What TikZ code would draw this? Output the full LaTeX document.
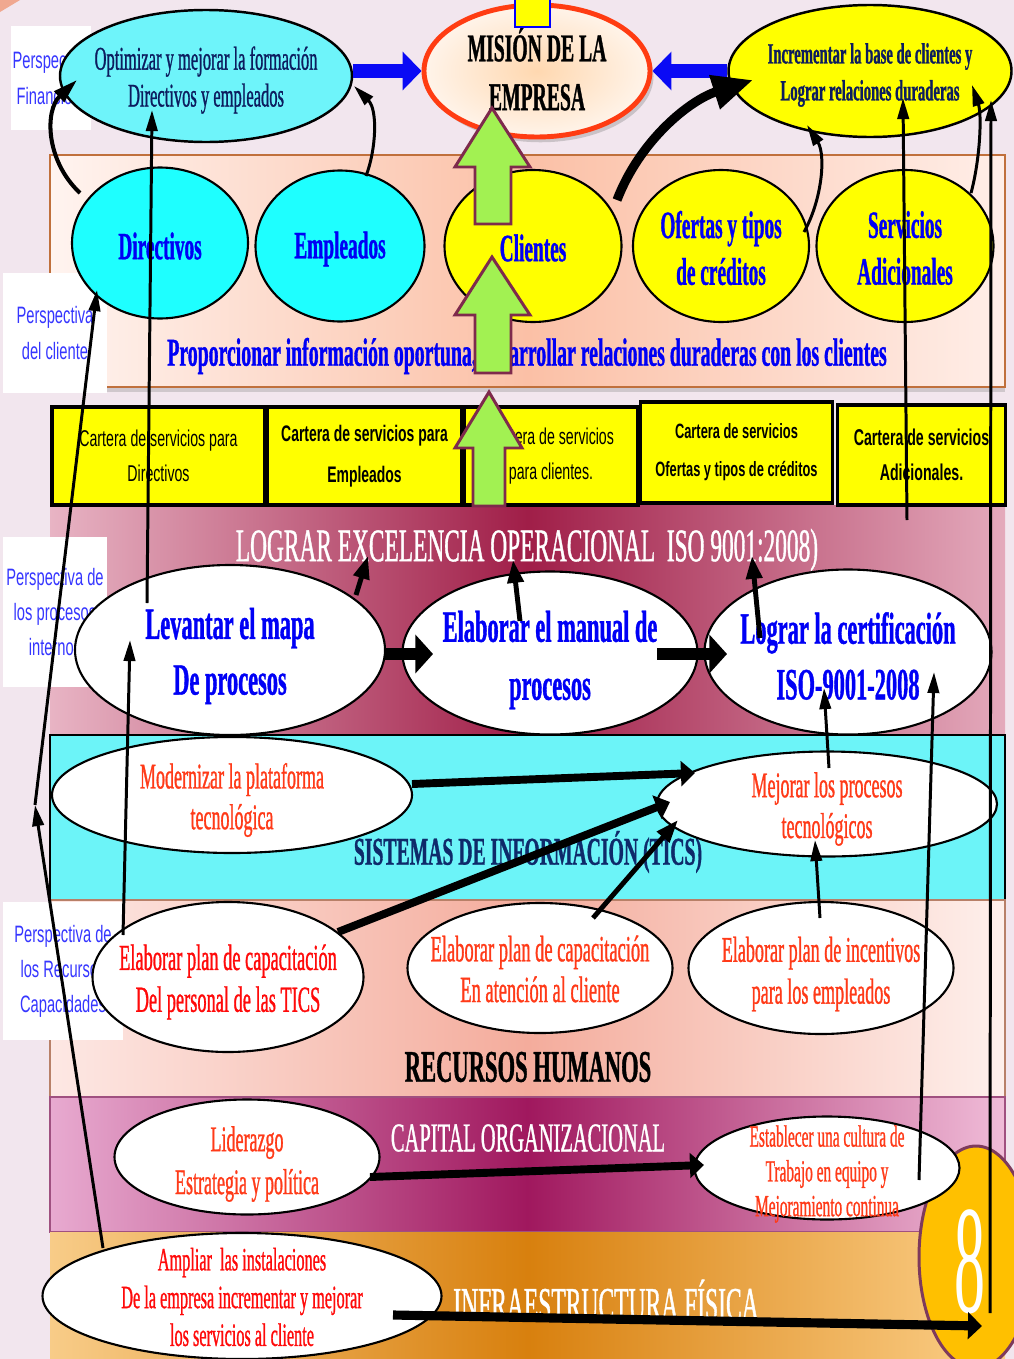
\documentclass[tikz,border=0pt]{standalone}
\usepackage{fontspec}
\usetikzlibrary{shapes.geometric,arrows.meta,calc,shadows}
\newfontfamily\cser[FakeStretch=0.5,FakeBold=0.8]{Liberation Serif}
\newfontfamily\csan[FakeStretch=0.62]{Liberation Sans}
\newfontfamily\ceight[FakeStretch=0.4]{Liberation Serif}

\definecolor{bgc}{HTML}{F2E6EE}
\definecolor{cornerc}{HTML}{F0A890}
\definecolor{cyanL}{HTML}{6EF4FA}
\definecolor{cyanD}{HTML}{1EFFFF}
\definecolor{ylw}{HTML}{FFFF00}
\definecolor{pblue}{HTML}{0000F5}
\definecolor{navy}{HTML}{0C1C5E}
\definecolor{ticsnavy}{HTML}{0E2A6A}
\definecolor{persp}{HTML}{3636FF}
\definecolor{ored}{HTML}{FF3A18}
\definecolor{pred}{HTML}{FF0A0A}
\definecolor{garr}{HTML}{A2F152}
\definecolor{gline}{HTML}{7E2A4C}
\definecolor{misred}{HTML}{FF3C12}
\definecolor{misin}{HTML}{FFD8B0}
\definecolor{misout}{HTML}{FFF4EA}
\definecolor{gold}{HTML}{FFC000}
\definecolor{goldline}{HTML}{7E3A5C}
\definecolor{bblue}{HTML}{0A0AF5}
\definecolor{bandline}{HTML}{C0703C}
\definecolor{cliL}{HTML}{FFF4F0}
\definecolor{cliM}{HTML}{FBC0A6}
\definecolor{cliR}{HTML}{FFEEE8}
\definecolor{proL}{HTML}{E8B4C4}
\definecolor{proM}{HTML}{A01E48}
\definecolor{proR}{HTML}{E4AABC}
\definecolor{ticsc}{HTML}{6CF4F8}
\definecolor{rhL}{HTML}{FDE8E4}
\definecolor{rhM}{HTML}{F4AC9C}
\definecolor{rhR}{HTML}{FEF0EC}
\definecolor{rhline}{HTML}{B88068}
\definecolor{coL}{HTML}{E8AAD0}
\definecolor{coM}{HTML}{A0185E}
\definecolor{coR}{HTML}{F0BCD8}
\definecolor{coline}{HTML}{A05080}
\definecolor{inL}{HTML}{F8CC88}
\definecolor{inM}{HTML}{D8800E}
\definecolor{inR}{HTML}{FCD08A}

\tikzset{
  ov/.style 2 args={shape=ellipse, inner sep=0pt, minimum width=#1*0.02cm, minimum height=#2*0.02cm},
  fr/.style 2 args={font=\cser\fontsize{#1}{#2}\selectfont, align=center, inner sep=0pt},
  fb/.style 2 args={font=\cser\bfseries\fontsize{#1}{#2}\selectfont, align=center, inner sep=0pt},
  fs/.style 2 args={font=\csan\fontsize{#1}{#2}\selectfont, align=center},
  fsb/.style 2 args={font=\csan\bfseries\fontsize{#1}{#2}\selectfont, align=center},
  plab/.style 2 args={fill=white, inner sep=0pt, minimum width=#1*0.02cm, minimum height=#2*0.02cm,
    font=\csan\fontsize{13.5}{20}\selectfont, align=center, text=persp},
  cell/.style 2 args={draw=black, line width=2pt, fill=ylw, inner sep=0pt,
    minimum width=#1*0.02cm, minimum height=#2*0.02cm},
  wov/.style={fill=white, draw=black, line width=1.2pt},
  yov/.style={fill=ylw, draw=black, line width=1.2pt},
  ar1/.style={line width=1.7pt, -{Triangle[width=6.5pt,length=12pt]}},
  ar2/.style={line width=2.8pt, -{Triangle[width=9pt,length=13pt]}},
  ar3/.style={line width=4.5pt, -{Triangle[width=14pt,length=8pt]}},
  ar4/.style={line width=6.8pt, -{Triangle[width=21.5pt,length=10pt]}},
  ar5/.style={line width=5.2pt, -{Triangle[width=15pt,length=8pt]}},
  arc1/.style={line width=2.3pt, -{Triangle[width=8pt,length=14pt]}},
  arcb/.style={line width=5.2pt, -{Triangle[width=19pt,length=23pt]}},
  blu/.style={draw=bblue, line width=8.5pt, -{Triangle[width=21.5pt,length=10.8pt]}},
  garrow/.style={fill=garr, draw=gline, line width=1.7pt, line join=miter},
}

\begin{document}
\begin{tikzpicture}[x=0.02cm,y=-0.02cm]
\useasboundingbox (0,0) rectangle (1014,1359);
\clip (0,0) rectangle (1014,1359);
\fill[bgc] (0,0) rectangle (1014,1359);
\fill[cornerc] (0,0) -- (20,0) -- (0,12) -- cycle;

% ---- perspective bands ----
\draw[draw=bandline, line width=1.2pt, left color=cliL, right color=cliR, middle color=cliM,
  drop shadow={opacity=0.3, shadow xshift=0pt, shadow yshift=-3pt}] (50,155) rectangle (1005,387);
\shade[left color=proL, right color=proR, middle color=proM] (50,505) rectangle (1005,735);
\draw[black, line width=1.2pt, fill=ticsc] (50,735) rectangle (1005,900);
\draw[draw=rhline, line width=0.8pt, left color=rhL, right color=rhR, middle color=rhM] (50,900) rectangle (1005,1097);
\draw[draw=coline, line width=0.8pt, left color=coL, right color=coR, middle color=coM] (50,1097) rectangle (1005,1232);
\shade[left color=inL, right color=inR, middle color=inM] (50,1232) rectangle (1005,1370);

% ---- service portfolio row ----
\node[cell={213}{98}] (c1) at (158.5,456) {};
\node[cell={195}{98}] (c2) at (364.5,456) {};
\node[cell={174}{98}] (c3) at (551,456) {};
\node[cell={192}{101}] (c4) at (736.5,452.5) {};
\node[cell={168}{100}] (c5) at (921.5,455) {};
\node[fs={13}{19.8}] (c1t) at (c1) {Cartera de servicios para\\Directivos};
\node[fsb={12.8}{23}] (c2t) at (c2) {Cartera de servicios para\\Empleados};
\node[fs={13}{19.8}] (c3t) at (c3) {Cartera de servicios\\para clientes.};
\node[fsb={11.8}{21.5}] (c4t) at (c4) {Cartera de servicios\\Ofertas y tipos de créditos};
\node[fsb={13}{19.8}] (c5t) at (c5) {Cartera de servicios\\Adicionales.};

% ---- perspective labels ----
\node[plab={80}{104}] (pf) at (51,78) {Perspectiva\\Financiera};
\node[plab={104}{120}] (pc) at (55,333) {Perspectiva\\del cliente};
\node[plab={104}{150}] (pp) at (55,612) {Perspectiva de\\los procesos\\internos};
\node[plab={120}{138}] (pr) at (63,971) {Perspectiva de\\los Recursos\\Capacidades};

% ---- band titles ----
\node[fb={22.5}{25}, text=pblue] (prop) at (527,356) {Proporcionar información oportuna, desarrollar relaciones duraderas con los clientes};
\node[fr={26.6}{28}, text=white] (ttl) at (527,550) {LOGRAR EXCELENCIA OPERACIONAL\ \ ISO 9001:2008)};
\node[fb={22.4}{26}, text=ticsnavy] (sis) at (528,852) {SISTEMAS DE INFORMACIÓN (TICS)};
\node[fb={25.7}{30}] (rh) at (528,1067) {RECURSOS HUMANOS};
\node[fr={23.3}{28}, text=white] (cap) at (528,1138) {CAPITAL ORGANIZACIONAL};
\node[fr={26.8}{30}, text=white] (inf) at (606,1300) {INFRAESTRUCTURA FÍSICA};

% ---- top row ----
\node[ov={292}{132}, fill=cyanL, draw=black, line width=1.4pt] (opt) at (206,76) {};
\node[fr={18.8}{21}, text=navy] (optT) at ($(opt)+(0,4)$) {Optimizar y mejorar la formación\\Directivos y empleados};
\node[ov={226}{132}, draw=misred, line width=2.8pt, inner color=misin, outer color=misout,
  drop shadow={opacity=0.35, shadow xshift=2pt, shadow yshift=-3pt}] (mis) at (537,71) {};
\node[fb={22.4}{27.8}] (misT) at ($(mis)+(0,-2)$) {MISIÓN DE LA\\EMPRESA};
\draw[blue, line width=1.4pt, fill=ylw] (515,-3) rectangle (550,27);
\node[ov={283}{132}, yov, line width=1.4pt] (inc) at (870,71) {};
\node[fb={16.7}{21}, text=navy] (incT) at ($(inc)+(0,4)$) {Incrementar la base de clientes y\\Lograr relaciones duraderas};

% ---- customer row ----
\node[ov={176}{151}, fill=cyanD, draw=black, line width=1.2pt] (dir) at (160,243) {};
\node[ov={169}{151}, fill=cyanD, draw=black, line width=1.2pt] (emp) at (340,246) {};
\node[ov={177}{152}, yov] (cli) at (533,246) {};
\node[ov={176}{152}, yov] (ofe) at (721,246) {};
\node[ov={177}{152}, yov] (ser) at (905,246) {};
\node[fb={22}{26.6}, text=pblue] (dirT) at ($(dir)+(0,3)$) {Directivos};
\node[fb={22}{26.6}, text=pblue] (empT) at ($(emp)+(0,3)$) {Empleados};
\node[fb={22}{26.6}, text=pblue] (cliT) at ($(cli)+(0,2)$) {Clientes};
\node[fb={22}{26.6}, text=pblue] (ofeT) at ($(ofe)+(0,2)$) {Ofertas y tipos\\de créditos};
\node[fb={22}{26.6}, text=pblue] (serT) at ($(ser)+(0,2)$) {Servicios\\Adicionales};

% ---- internal processes ----
\node[ov={310}{170}, wov] (lev) at (230,650) {};
\node[ov={295}{163}, wov] (man) at (550,653) {};
\node[ov={287}{165}, wov] (cer) at (848,652) {};
\node[fb={25.5}{31.7}, text=pblue] (levT) at ($(lev)+(0,6)$) {Levantar el mapa\\De procesos};
\node[fb={25.5}{33}, text=pblue] (manT) at ($(man)+(0,7)$) {Elaborar el manual de\\procesos};
\node[fb={25.5}{31.7}, text=pblue] (cerT) at ($(cer)+(0,4)$) {Lograr la certificación\\ISO-9001-2008};

% ---- information systems ----
\node[ov={360}{116}, wov] (mod) at (232,795) {};
\node[ov={340}{105}, wov] (mej) at (827,804) {};
\node[fr={20.5}{23.2}, text=ored] (modT) at ($(mod)+(0,5)$) {Modernizar la plataforma\\tecnológica};
\node[fr={20.5}{23.2}, text=ored] (mejT) at ($(mej)+(0,5)$) {Mejorar los procesos\\tecnológicos};

% ---- human resources ----
\node[ov={271}{150}, wov] (ctic) at (228,977) {};
\node[ov={265}{130}, wov] (ccli) at (540,968) {};
\node[ov={265}{132}, wov] (cinc) at (821,968) {};
\node[fr={20.9}{23.8}, text=pred] (cticT) at ($(ctic)+(0,5)$) {Elaborar plan de capacitación\\Del personal de las TICS};
\node[fr={21}{23.2}, text=ored] (ccliT) at ($(ccli)+(0,1)$) {Elaborar plan de capacitación\\En atención al cliente};
\node[fr={20.6}{23.8}, text=ored] (cincT) at ($(cinc)+(0,6)$) {Elaborar plan de incentivos\\para los empleados};

% ---- organisational capital and infrastructure ----
\node[ov={114}{222}, fill=gold, draw=goldline, line width=1.7pt] (e8) at (976,1257) {};
\node[font=\ceight\fontsize{88}{88}\selectfont, text=white, inner sep=0pt] (e8T) at (970,1262) {8};
\node[ov={265}{115}, wov] (lid) at (247,1157) {};
\node[ov={265}{103}, wov] (est) at (827,1168) {};
\node[ov={399}{126}, wov] (amp) at (242,1296) {};
\node[fr={20.5}{24.4}, text=ored] (lidT) at ($(lid)+(0,7)$) {Liderazgo\\Estrategia y política};
\node[fr={17.5}{19.8}, text=ored] (estT) at ($(est)+(0,6)$) {Establecer una cultura de\\Trabajo en equipo y\\Mejoramiento continua};
\node[fr={18.5}{21.5}, text=pred] (ampT) at ($(amp)+(0,1)$) {Ampliar\ \ las instalaciones\\De la empresa incrementar y mejorar\\los servicios al cliente};

% ---- connectors ----
\draw[blu] (opt.east |- mis.west) -- (mis.west);
\draw[blu] (inc.west) -- (mis.east);

\draw[arc1] ($(dir)+(-80,-50)$) .. controls ($(dir)+(-115,-83)$) and ($(dir)+(-115,-133)$) .. ($(opt)+(-129,4)$);
\draw[ar1] ($(emp)+(26,-70)$) .. controls ($(emp)+(36,-96)$) and ($(emp)+(38,-136)$) .. ($(opt)+(148,10)$);
\draw[arcb] ($(cli)+(84,-46)$) .. controls ($(cli)+(107,-106)$) and ($(cli)+(157,-146)$) .. ($(inc)+(-117,9)$);
\draw[ar1] ($(ofe)+(83,-14)$) .. controls ($(ofe)+(101,-46)$) and ($(ofe)+(105,-91)$) .. ($(inc)+(-63,54)$);
\draw[ar1] ($(ser)+(66,-53)$) .. controls ($(ser)+(75,-86)$) and ($(ser)+(77,-131)$) .. ($(inc)+(102,14)$);

\draw[ar1] ($(c5)+(-14.5,65)$) -- ($(inc)+(33,27)$);
\draw[ar1] ($(e8)+(14,56)$) -- ($(inc)+(121,29)$);
\draw[ar1] ($(lev)+(-83,-47)$) -- ($(opt)+(-54,34)$);

\draw[ar2] ($(lev)+(126,-55)$) -- ($(ttl)+(-159,6)$);
\draw[ar2] ($(man)+(-30,-32)$) -- ($(ttl)+(-14,10)$);
\draw[ar2] ($(cer)+(-88,-14)$) -- ($(ttl)+(225,6)$);
\draw[ar4] ($(lev)+(155,4)$) -- ($(man)+(-117,1)$);
\draw[ar4] ($(man)+(107,1)$) -- ($(cer)+(-121,2)$);

\draw[ar3] ($(mod)+(180,-11)$) -- ($(mej)+(-132,-31)$);
\draw[ar3] ($(ctic)+(110,-45)$) -- ($(mej)+(-157,-2)$);
\draw[ar2] ($(ccli)+(53,-50)$) -- ($(mej)+(-149,16)$);
\draw[ar1] ($(cinc)+(-1,-50)$) -- ($(mej)+(-12,36)$);
\draw[ar1] ($(mej)+(2,-36)$) -- ($(cer)+(-24,36)$);
\draw[ar1] ($(ctic)+(-105,-42)$) -- ($(lev)+(-100,-10)$);

\coordinate (kink) at (35,805);
\draw[ar1] ($(amp)+(-139,-48)$) -- (kink);
\draw[ar1] (kink) -- ($(dir)+(-63,47)$);
\draw[ar1] ($(est)+(92,12)$) -- ($(cer)+(86,20)$);
\draw[ar3] ($(lid)+(123,20)$) -- ($(est)+(-123,-3)$);
\draw[ar5] ($(amp)+(151,19)$) -- ($(e8)+(6,69)$);

% ---- green block arrows ----
\draw[garrow] (492,108) -- (530,167) -- (511,167) -- (511,224) -- (475,224) -- (475,167) -- (455,167) -- cycle;
\draw[garrow] (492,257) -- (530,315) -- (511,315) -- (511,373) -- (475,373) -- (475,315) -- (455,315) -- cycle;
\draw[garrow] (489,392) -- (522,448) -- (505,448) -- (505,506) -- (473,506) -- (473,448) -- (455,448) -- cycle;
\end{tikzpicture}
\end{document}
